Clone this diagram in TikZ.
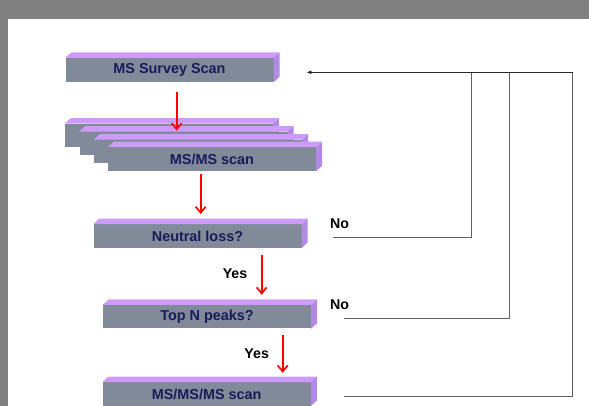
\documentclass[tikz,border=0pt]{standalone}
\usepackage{fontspec}
\setmainfont{Liberation Sans}
\usetikzlibrary{arrows.meta}
\definecolor{barfront}{HTML}{808A98}
\definecolor{bartop}{HTML}{CC9CF8}
\definecolor{barside}{HTML}{B28AE6}
\definecolor{bartext}{HTML}{1A1A5C}
\definecolor{frame}{HTML}{808080}
\tikzset{
  scanbar/.style = {fill=barfront,minimum width=208pt,minimum height=23.5pt,inner sep=0pt,
                    text=bartext,font=\fontsize{14.4}{16}\selectfont\bfseries},
  lbl/.style     = {inner sep=0pt,font=\fontsize{14.2}{16}\selectfont\bfseries},
  redarr/.style  = {-{Straight Barb[length=6pt,width=10pt]},red,line width=1.7pt},
  fbline/.style  = {gray!75!black,line width=0.8pt},
  fbarr/.style   = {-{Latex[length=5pt,width=4pt]},black!85,line width=0.8pt}
}
% top and side faces of a bar
\newcommand{\barfaces}[1]{%
  \fill[bartop] (#1.north west) -- ++(6,-5.5) -- ([shift={(6,-5.5)}]#1.north east) -- (#1.north east) -- cycle;
  \fill[barside] (#1.north east) -- ++(6,-5.5) -- ([shift={(6,-5.5)}]#1.south east) -- (#1.south east) -- cycle;
}

\begin{document}
\begin{tikzpicture}[x=1pt,y=-1pt]
  \useasboundingbox (0,0) rectangle (589,406);
  \fill[frame] (0,0) rectangle (589,19);
  \fill[frame] (0,0) rectangle (8,406);
  % bars
  \node[scanbar,minimum height=24pt] (survey) at (169.5,70) {MS Survey Scan};
  \barfaces{survey}
  \foreach \i/\cx/\cy in {1/169/135.5, 2/183.5/143.5, 3/198/151.5}{
    \node[scanbar] (ms\i) at (\cx,\cy) {};
    \barfaces{ms\i}
  }
  \node[scanbar] (ms4) at (212,159.2) {MS/MS scan};
  \barfaces{ms4}
  \node[scanbar] (neutral) at (197.5,236) {Neutral loss?};
  \barfaces{neutral}
  \node[scanbar] (topn) at (207,316.7) {Top N peaks?};
  \barfaces{topn}
  \node[scanbar] (msms3) at (206.7,394) {MS/MS/MS scan};
  \barfaces{msms3}
  % red flow arrows
  \draw[redarr] ([xshift=7.2pt,yshift=-10pt]survey.south) -- ([xshift=-6.8pt,yshift=1pt]ms2.north);
  \draw[redarr] ([xshift=-11.3pt,yshift=-2.5pt]ms4.south) -- ([xshift=3.2pt,yshift=10pt]neutral.north);
  \draw[redarr] ([xshift=64.2pt,yshift=-7.3pt]neutral.south) -- ([xshift=54.7pt,yshift=10pt]topn.north);
  \draw[redarr] ([xshift=75.7pt,yshift=-6.7pt]topn.south) -- ([xshift=76pt,yshift=9.3pt]msms3.north);
  % labels
  \node[lbl] (yesA) at (235,274) {Yes};
  \node[lbl] (yesB) at (256.7,354) {Yes};
  \node[lbl] (noA) at (339.5,223.3) {No};
  \node[lbl] (noB) at (339.5,304.3) {No};
  % feedback loop
  \coordinate (loopin) at ([xshift=32.7pt,yshift=-2.3pt]survey.east);
  \coordinate (jA) at (471,72.3);
  \coordinate (jB) at (509.3,72.3);
  \coordinate (jC) at (572.7,72.3);
  \draw[fbline] ([xshift=31.6pt,yshift=-1.7pt]neutral.east) -| (jA);
  \draw[fbline] ([xshift=32.3pt,yshift=-1.6pt]topn.east) -| (jB);
  \draw[fbline] ([xshift=32.6pt,yshift=-2.7pt]msms3.east) -| (jC);
  \draw[fbarr] (jC) -- (loopin);
\end{tikzpicture}
\end{document}
